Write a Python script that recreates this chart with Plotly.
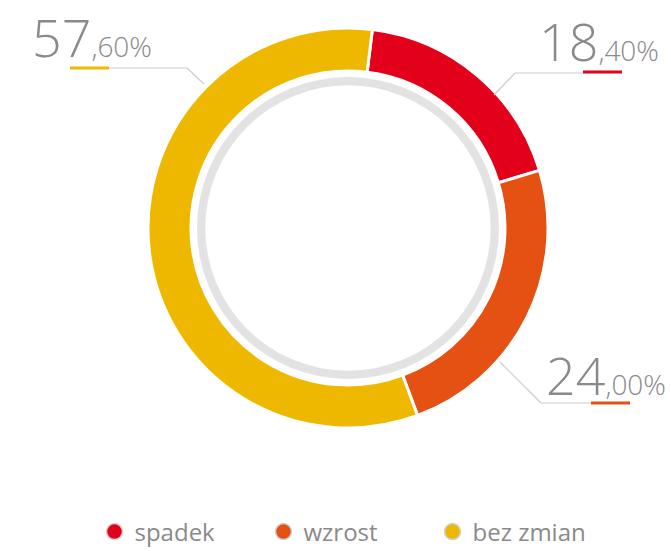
import plotly.graph_objects as go

categories = ["spadek", "wzrost", "bez zmian"]
values = [18.4, 24.0, 57.6]
colors = ["#e2001a", "#e55013", "#efb800"]

W, H = 671, 551
TXT = "#8a8a8a"
FONT = "Open Sans"

def px(x):
    return x / W

def py(y):
    return 1 - y / H

fig = go.Figure()

cx, cy = 348, 228
R = 200
Rg = 151

fig.add_trace(go.Pie(
    values=[1], labels=["ring"], hole=0.945, sort=False,
    marker=dict(colors=["#e3e3e3"], line=dict(width=0)),
    textinfo="none", hoverinfo="skip", showlegend=False,
    domain=dict(x=[px(cx - Rg), px(cx + Rg)], y=[py(cy + Rg), py(cy - Rg)]),
))

fig.add_trace(go.Pie(
    values=values, labels=categories, hole=0.785, sort=False,
    direction="clockwise", rotation=7,
    marker=dict(colors=colors, line=dict(color="white", width=3)),
    textinfo="none", showlegend=False,
    domain=dict(x=[px(cx - R), px(cx + R)], y=[py(cy + R), py(cy - R)]),
))

# legend entries
for c, col in zip(categories, colors):
    fig.add_trace(go.Scatter(
        x=[None], y=[None], mode="markers", name=c,
        marker=dict(size=20, color=col, line=dict(color="#d0d0d0", width=1.5)),
    ))

def fmt(v):
    s = f"{v:.2f}"
    a, b = s.split(".")
    return (f"<span style='font-size:52px'>{a}</span>"
            f"<span style='font-size:28px'>,{b}%</span>")

# label layout (x, y, anchor) per category
label_pos = {
    "spadek": (661, 78, "right"),
    "wzrost": (668, 412, "right"),
    "bez zmian": (30, 74, "left"),
}
annotations = []
for c, v in zip(categories, values):
    x, y, anc = label_pos[c]
    annotations.append(dict(
        x=px(x), y=py(y), xref="paper", yref="paper", xanchor=anc, yanchor="bottom",
        text=fmt(v), showarrow=False,
        font=dict(family=FONT, color=TXT, size=28, weight=300),
    ))

shapes = []
grey = "#cccccc"
def seg(x0, y0, x1, y1, color=grey, width=1.2):
    shapes.append(dict(type="line", xref="paper", yref="paper",
                       x0=px(x0), y0=py(y0), x1=px(x1), y1=py(y1),
                       line=dict(color=color, width=width)))

# bez zmian leader
seg(204, 84, 187, 68)
seg(187, 68, 109, 68)
seg(70, 68, 109, 68, colors[2], 3)
# spadek leader
seg(494, 95, 515, 73)
seg(515, 73, 583, 73)
seg(583, 72, 622, 72, colors[0], 3)
# wzrost leader
seg(500, 362, 541, 403)
seg(541, 403, 591, 403)
seg(591, 403, 630, 403, colors[1], 3)

fig.update_layout(
    width=W, height=H,
    margin=dict(l=0, r=0, t=0, b=0, autoexpand=False),
    paper_bgcolor="white", plot_bgcolor="white",
    xaxis=dict(visible=False), yaxis=dict(visible=False),
    annotations=annotations, shapes=shapes,
    showlegend=True,
    legend=dict(orientation="h", x=px(348), xanchor="center",
                y=(H - 532) / H, yanchor="middle", yref="container",
                font=dict(family=FONT, size=24, color=TXT),
                itemsizing="trace", entrywidth=124, entrywidthmode="pixels",
                bgcolor="rgba(0,0,0,0)"),
)

fig.write_html("out.html", config={"displayModeBar": False},
               post_script="document.body.style.margin='0';")
